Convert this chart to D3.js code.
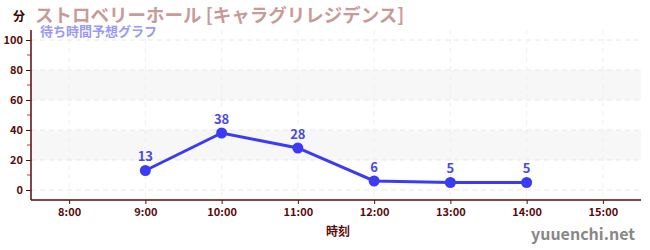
<!DOCTYPE html>
<html>
<head>
<meta charset="utf-8">
<script src="https://cdn.jsdelivr.net/npm/d3@7"></script>
<style>
body { margin:0; background:#fff; }
text { font-family: "Noto Sans CJK JP", "Noto Sans", sans-serif; }
</style>
</head>
<body>
<svg id="chart" width="650" height="250"></svg>
<script>
// data
var hours = [9, 10, 11, 12, 13, 14];
var waits = [13, 38, 28, 6, 5, 5];
var xTicks = [8, 9, 10, 11, 12, 13, 14, 15];
var yTicks = [0, 20, 40, 60, 80, 100];
var bands = [[20, 40], [60, 80]];

var svg = d3.select("#chart");
var pLeft = 31, pRight = 641, pTop = 30, pBottom = 200;

var x = d3.scaleLinear().domain([7.5, 15.5]).range([pLeft, pRight]);
var y = d3.scaleLinear().domain([-6.67, 106.67]).range([pBottom, pTop]);

var axisCol = "#5a0a0a";
var blue = "#3b3bf5";

// bands
svg.selectAll("rect.band").data(bands).enter().append("rect")
  .attr("x", pLeft).attr("width", pRight - pLeft)
  .attr("y", function(d){ return y(d[1]); })
  .attr("height", function(d){ return y(d[0]) - y(d[1]); })
  .style("fill", "#f7f7f7");

// grid
svg.selectAll("line.hg").data(yTicks).enter().append("line")
  .attr("x1", pLeft).attr("x2", pRight)
  .attr("y1", function(d){ return y(d); }).attr("y2", function(d){ return y(d); })
  .style("stroke", "#e8e8e8").style("stroke-dasharray", "5,4");
svg.selectAll("line.vg").data(xTicks).enter().append("line")
  .attr("x1", function(d){ return x(d); }).attr("x2", function(d){ return x(d); })
  .attr("y1", pTop).attr("y2", pBottom)
  .style("stroke", "#efefef").style("stroke-dasharray", "5,4");

// minor red ticks
svg.selectAll("line.mt").data([10, 30, 50, 70, 90]).enter().append("line")
  .attr("x1", pLeft - 4).attr("x2", pLeft)
  .attr("y1", function(d){ return y(d); }).attr("y2", function(d){ return y(d); })
  .style("stroke", "#e03030");

// axes
var yAxis = svg.append("g").attr("transform", "translate(" + pLeft + ",0)")
  .call(d3.axisLeft(y).tickValues(yTicks).tickSize(5).tickPadding(3));
var xAxis = svg.append("g").attr("transform", "translate(0," + pBottom + ")")
  .call(d3.axisBottom(x).tickValues(xTicks).tickSize(4).tickPadding(4)
    .tickFormat(function(d){ return d + ":00"; }));
[yAxis, xAxis].forEach(function(g){
  g.select(".domain").style("stroke", axisCol).style("stroke-width", 1.5);
  g.selectAll(".tick line").style("stroke", axisCol);
  g.selectAll(".tick text").style("fill", axisCol).style("font-size", "11px").style("font-weight", "bold")
    .style("font-family", "'Noto Sans CJK JP', sans-serif");
});
yAxis.select(".domain").attr("d", "M0," + pTop + "V" + pBottom);
xAxis.select(".domain").attr("d", "M" + pLeft + ",0H" + pRight);

// line
var pts = hours.map(function(h, i){ return [h, waits[i]]; });
svg.append("path").datum(pts)
  .attr("d", d3.line().x(function(d){ return x(d[0]); }).y(function(d){ return y(d[1]); }))
  .style("fill", "none").style("stroke", blue).style("stroke-width", 3);
svg.selectAll("circle.pt").data(pts).enter().append("circle")
  .attr("cx", function(d){ return x(d[0]); }).attr("cy", function(d){ return y(d[1]); })
  .attr("r", 5.5).style("fill", blue);
svg.selectAll("text.val").data(pts).enter().append("text")
  .attr("x", function(d){ return x(d[0]); }).attr("y", function(d){ return y(d[1]) - 9; })
  .attr("text-anchor", "middle")
  .style("fill", "#4a4ae0").style("font-size", "13px").style("font-weight", "bold")
  .text(function(d){ return d[1]; });

// titles
svg.append("text").attr("x", 13).attr("y", 21).text("分")
  .style("fill", "#3a0000").style("font-size", "12px").style("font-weight", "bold");
svg.append("text").attr("x", 35).attr("y", 22).text("ストロベリーホール [キャラグリレジデンス]")
  .style("fill", "#c99a9a").style("font-size", "18.5px").style("font-weight", "bold");
svg.append("text").attr("x", 40).attr("y", 36).text("待ち時間予想グラフ")
  .style("fill", "#9a9af5").style("font-size", "13px").style("font-weight", "bold");
svg.append("text").attr("x", 338).attr("y", 236).attr("text-anchor", "middle").text("時刻")
  .style("fill", axisCol).style("font-size", "12px").style("font-weight", "bold");
svg.append("text").attr("x", 635).attr("y", 240).attr("text-anchor", "end").text("yuuenchi.net")
  .style("fill", "#888").style("font-size", "16px").style("font-weight", "bold");
</script>
</body>
</html>
